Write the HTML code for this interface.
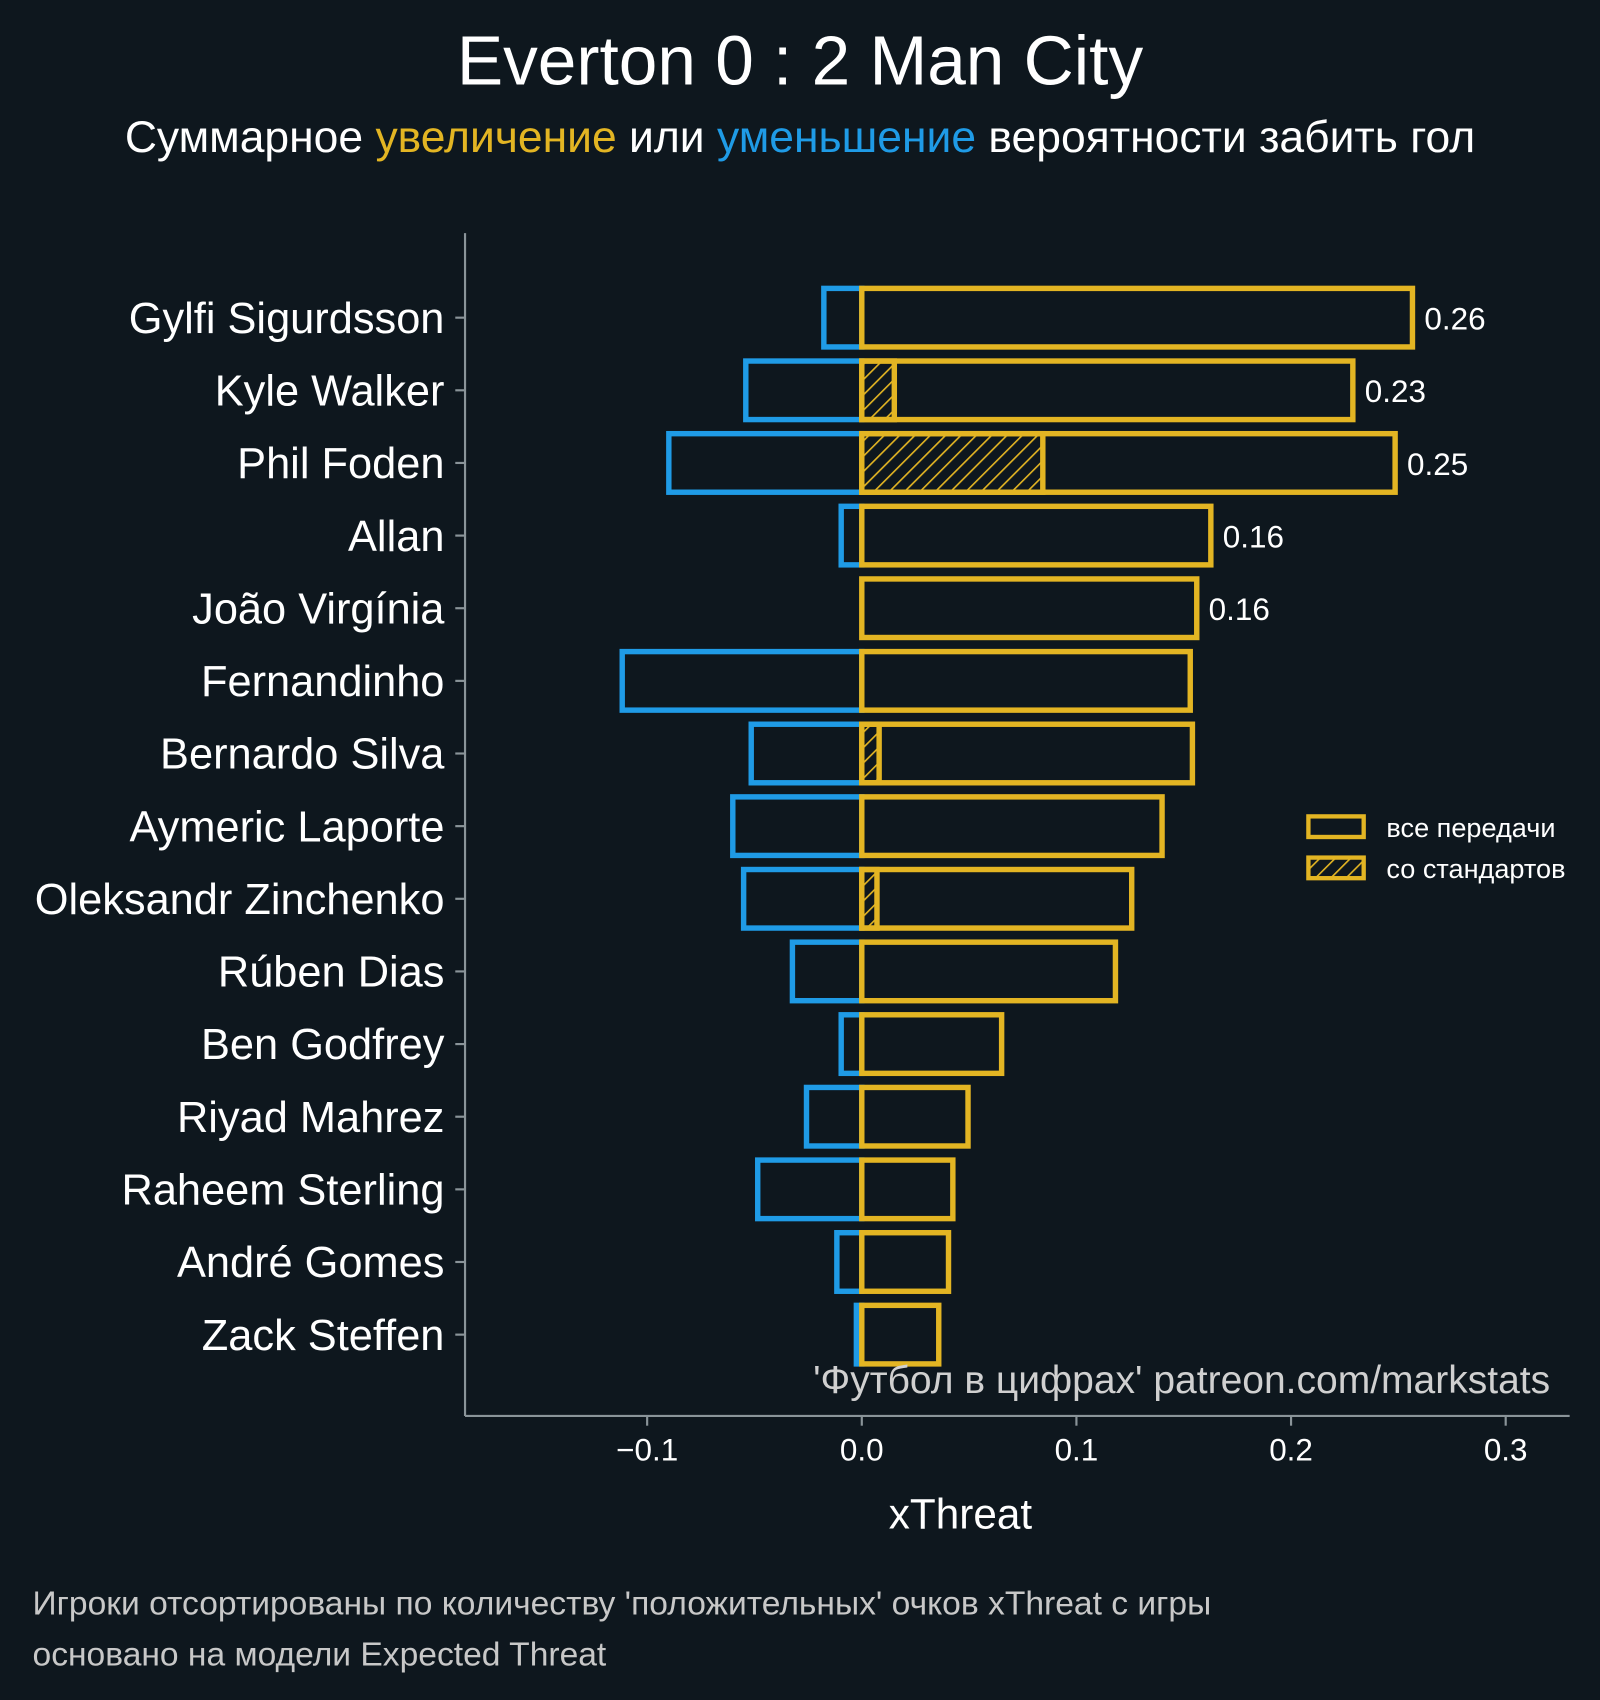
<!DOCTYPE html>
<html><head><meta charset="utf-8"><style>html,body{margin:0;padding:0;background:#0e171e;}svg{display:block}</style></head>
<body>
<svg width="1600" height="1700" viewBox="0 0 1476 1568" preserveAspectRatio="none" xmlns="http://www.w3.org/2000/svg" font-family="Liberation Sans, DejaVu Sans, sans-serif">
<defs>
<pattern id="h" patternUnits="userSpaceOnUse" width="10" height="10" patternTransform="rotate(45)">
<rect width="10" height="10" fill="#0e171e"/><line x1="0" y1="0" x2="0" y2="10" stroke="#e3b523" stroke-width="3"/>
</pattern>
</defs>
<rect width="1476" height="1568" fill="#0e171e"/>
<text x="738" y="78" text-anchor="middle" font-size="64" fill="#fff">Everton 0 : 2 Man City</text>
<text x="738" y="140" text-anchor="middle" font-size="41" fill="#fff">Суммарное <tspan fill="#e3b523">увеличение</tspan> или <tspan fill="#1f9be6">уменьшение</tspan> вероятности забить гол</text>
<line x1="429" y1="215" x2="429" y2="1306" stroke="#8a9499" stroke-width="2"/>
<line x1="429" y1="1306" x2="1448" y2="1306" stroke="#8a9499" stroke-width="2"/>

<g fill="none" stroke-width="5" stroke="#1f9be6">
<rect x="760" y="266" width="35" height="54"/>
<rect x="688" y="333" width="107" height="54"/>
<rect x="617" y="400" width="178" height="54"/>
<rect x="776" y="467" width="19" height="54"/>
<rect x="574" y="601" width="221" height="54"/>
<rect x="693" y="668" width="102" height="54"/>
<rect x="676" y="735" width="119" height="54"/>
<rect x="686" y="802" width="109" height="54"/>
<rect x="731" y="869" width="64" height="54"/>
<rect x="776" y="936" width="19" height="54"/>
<rect x="744" y="1003" width="51" height="54"/>
<rect x="699" y="1070" width="96" height="54"/>
<rect x="772" y="1137" width="23" height="54"/>
<rect x="790" y="1204" width="5" height="54"/>
</g>
<g stroke-width="5" stroke="#e3b523" fill="url(#h)">
<rect x="795" y="333" width="30" height="54"/>
<rect x="795" y="400" width="167" height="54"/>
<rect x="795" y="668" width="16" height="54"/>
<rect x="795" y="802" width="14" height="54"/>
</g>
<g fill="none" stroke-width="5" stroke="#e3b523">
<rect x="795" y="266" width="508" height="54"/>
<rect x="795" y="333" width="453" height="54"/>
<rect x="795" y="400" width="492" height="54"/>
<rect x="795" y="467" width="322" height="54"/>
<rect x="795" y="534" width="309" height="54"/>
<rect x="795" y="601" width="303" height="54"/>
<rect x="795" y="668" width="305" height="54"/>
<rect x="795" y="735" width="277" height="54"/>
<rect x="795" y="802" width="249" height="54"/>
<rect x="795" y="869" width="234" height="54"/>
<rect x="795" y="936" width="129" height="54"/>
<rect x="795" y="1003" width="98" height="54"/>
<rect x="795" y="1070" width="84" height="54"/>
<rect x="795" y="1137" width="80" height="54"/>
<rect x="795" y="1204" width="71" height="54"/>
</g>
<g font-size="29" fill="#fff">
<text x="1314" y="304">0.26</text>
<text x="1259" y="371">0.23</text>
<text x="1298" y="438">0.25</text>
<text x="1128" y="505">0.16</text>
<text x="1115" y="572">0.16</text>
</g>
<g font-size="40" fill="#fff" text-anchor="end">
<text x="410" y="307">Gylfi Sigurdsson</text>
<text x="410" y="374">Kyle Walker</text>
<text x="410" y="441">Phil Foden</text>
<text x="410" y="508">Allan</text>
<text x="410" y="575">João Virgínia</text>
<text x="410" y="642">Fernandinho</text>
<text x="410" y="709">Bernardo Silva</text>
<text x="410" y="776">Aymeric Laporte</text>
<text x="410" y="843">Oleksandr Zinchenko</text>
<text x="410" y="910">Rúben Dias</text>
<text x="410" y="977">Ben Godfrey</text>
<text x="410" y="1044">Riyad Mahrez</text>
<text x="410" y="1111">Raheem Sterling</text>
<text x="410" y="1178">André Gomes</text>
<text x="410" y="1245">Zack Steffen</text>
</g>
<g stroke="#8a9499" stroke-width="2">
<line x1="420" y1="293" x2="429" y2="293"/><line x1="420" y1="360" x2="429" y2="360"/><line x1="420" y1="427" x2="429" y2="427"/><line x1="420" y1="494" x2="429" y2="494"/><line x1="420" y1="561" x2="429" y2="561"/><line x1="420" y1="628" x2="429" y2="628"/><line x1="420" y1="695" x2="429" y2="695"/><line x1="420" y1="762" x2="429" y2="762"/><line x1="420" y1="829" x2="429" y2="829"/><line x1="420" y1="896" x2="429" y2="896"/><line x1="420" y1="963" x2="429" y2="963"/><line x1="420" y1="1030" x2="429" y2="1030"/><line x1="420" y1="1097" x2="429" y2="1097"/><line x1="420" y1="1164" x2="429" y2="1164"/><line x1="420" y1="1231" x2="429" y2="1231"/>
<line x1="597" y1="1306" x2="597" y2="1315"/><line x1="795" y1="1306" x2="795" y2="1315"/><line x1="993" y1="1306" x2="993" y2="1315"/><line x1="1191" y1="1306" x2="1191" y2="1315"/><line x1="1389" y1="1306" x2="1389" y2="1315"/>
</g>
<g font-size="29" fill="#fff" text-anchor="middle">
<text x="597" y="1347">−0.1</text><text x="795" y="1347">0.0</text><text x="993" y="1347">0.1</text><text x="1191" y="1347">0.2</text><text x="1389" y="1347">0.3</text>
</g>
<text x="1430" y="1285" text-anchor="end" font-size="36" fill="#d0d0d0">'Футбол в цифрах' patreon.com/markstats</text>
<text x="886" y="1410" text-anchor="middle" font-size="39" fill="#fff">xThreat</text>
<rect x="1207" y="753" width="51" height="19" fill="none" stroke="#e3b523" stroke-width="4"/>
<text x="1279" y="772" font-size="25" fill="#fff">все передачи</text>
<rect x="1207" y="791" width="51" height="19" fill="url(#h)" stroke="#e3b523" stroke-width="4"/>
<text x="1279" y="810" font-size="25" fill="#fff">со стандартов</text>
<text x="30" y="1489" font-size="31" fill="#c8c8c8">Игроки отсортированы по количеству 'положительных' очков xThreat с игры</text>
<text x="30" y="1536" font-size="31" fill="#c8c8c8">основано на модели Expected Threat</text>
</svg>
</body></html>
